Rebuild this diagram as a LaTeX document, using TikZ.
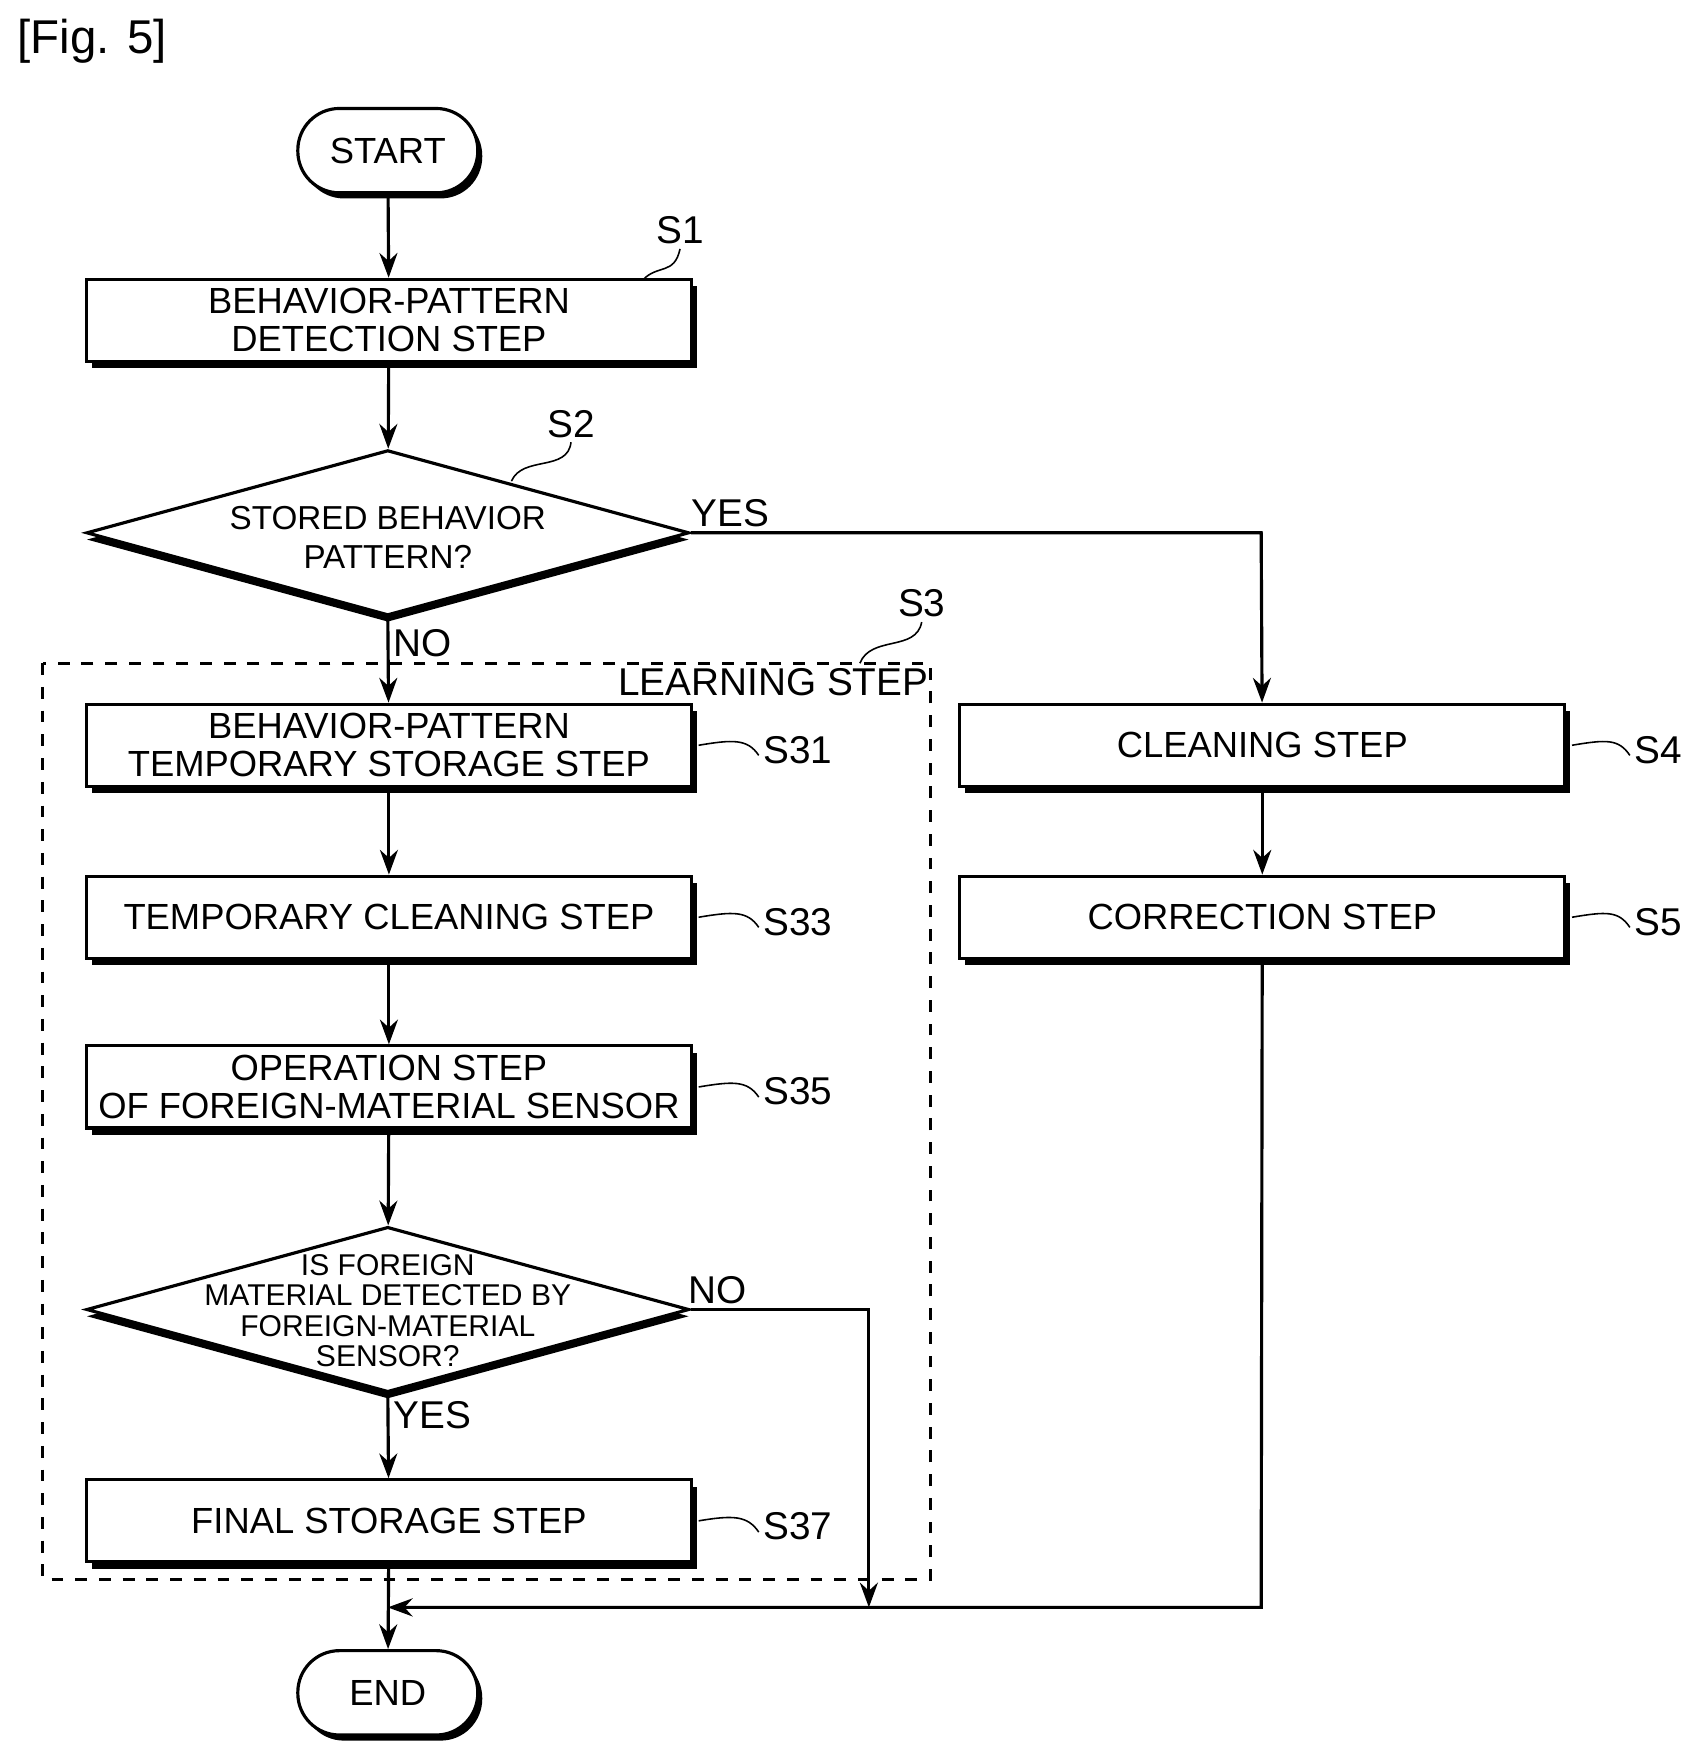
\documentclass[tikz,border=0pt]{standalone}
\usepackage{fontspec}
\setmainfont{Liberation Sans}
\usetikzlibrary{positioning, arrows.meta, shapes.geometric, shadows}

\begin{document}
\begin{tikzpicture}[
    x=0.01cm, y=-0.01cm,
    font=\fontsize{9.2}{9.6}\selectfont,
    process/.style={rectangle, draw, thick, fill=white, minimum width=5.38cm, minimum height=0.73cm, inner sep=0pt, align=center,
        drop shadow={shadow xshift=0.5mm, shadow yshift=-0.6mm, fill=black, opacity=1}},
    term/.style={rectangle, rounded corners=0.37cm, draw, thick, fill=white, minimum width=1.6cm, minimum height=0.75cm,
        drop shadow={shadow xshift=0.4mm, shadow yshift=-0.5mm, fill=black, opacity=1}},
    decision/.style={diamond, draw, thick, fill=white, minimum width=5.36cm, minimum height=1.47cm, inner sep=0pt,
        drop shadow={shadow xshift=0mm, shadow yshift=-0.6mm, fill=black, opacity=1}},
    arrow/.style={-{Stealth[length=2.2mm, width=1.6mm]}, thick},
    tag/.style={font=\fontsize{9.8}{9.8}\selectfont, inner sep=1pt}
]
\useasboundingbox (0,0) rectangle (1500,1556);

% Title
\node at (82,37) {\fontsize{12}{12}\selectfont [Fig. 5]};

% Nodes
\node (Start) [term] at (345,134) {START};
\node (Detect) [process] at (346,285) {BEHAVIOR-PATTERN\\DETECTION STEP};
\node (Stored) [decision] at (345,474) {};
\node [font=\fontsize{8.4}{10}\selectfont, align=center] at (345,478) {STORED BEHAVIOR\\PATTERN?};

\draw [dashed, thick] (38,590) rectangle (828,1405);
\node (LearnLbl) [tag] at (688,607) {LEARNING STEP};

\node (TempStore) [process] at (346,663) {BEHAVIOR-PATTERN\\TEMPORARY STORAGE STEP};
\node (TempClean) [process] at (346,816) {TEMPORARY CLEANING STEP};
\node (Sensor) [process] at (346,967) {OPERATION STEP\\OF FOREIGN-MATERIAL SENSOR};
\node (Detected) [decision] at (345,1165) {};
\node [font=\fontsize{7.6}{7.6}\selectfont, align=center] at (345,1166) {IS FOREIGN\\MATERIAL DETECTED BY\\FOREIGN-MATERIAL\\SENSOR?};
\node (Final) [process] at (346,1353) {FINAL STORAGE STEP};

\node (Cleaning) [process] at (1123,663) {CLEANING STEP};
\node (Correct) [process] at (1123,816) {CORRECTION STEP};

\node (End) [term] at (345,1506) {END};

% Step labels
\node (LS1) [tag] at (605,205) {S1};
\node (LS2) [tag] at (508,377) {S2};
\node (LS3) [tag] at (820,537) {S3};
\node (LS31) [tag, anchor=west] at (675,667) {S31};
\node (LS33) [tag, anchor=west] at (675,820) {S33};
\node (LS35) [tag, anchor=west] at (675,971) {S35};
\node (LS37) [tag, anchor=west] at (675,1358) {S37};
\node (LS4) [tag, anchor=west] at (1450,667) {S4};
\node (LS5) [tag, anchor=west] at (1450,820) {S5};

\draw (LS1.south) .. controls (600,245) and (585,235) .. (572,249);
\draw (LS2.south) .. controls (505,420) and (465,405) .. (455,428);
\draw (LS3.south) .. controls (815,580) and (775,565) .. (765,590);
\foreach \s/\l in {TempStore/LS31, TempClean/LS33, Sensor/LS35, Final/LS37, Cleaning/LS4, Correct/LS5}
    \draw ([xshift=0.05cm]\s.east) .. controls +(0.3cm,0.05cm) and +(-0.1cm,0.15cm) .. ([yshift=-0.05cm]\l.west);

% Arrows
\draw [arrow] (Start) -- (Detect);
\draw [arrow] (Detect) -- (Stored);
\draw [arrow] (Stored.south) -- node[pos=0.3, right, tag] {NO} (TempStore);
\draw [arrow] (Stored.east) -- node[pos=0.07, above, tag] {YES} (1122,474) -- (Cleaning);
\draw [arrow] (TempStore) -- (TempClean);
\draw [arrow] (TempClean) -- (Sensor);
\draw [arrow] (Sensor) -- (Detected);
\draw [arrow] (Detected.south) -- node[pos=0.25, right, tag] {YES} (Final);
\draw [arrow] (Detected.east) -- node[pos=0.15, above, tag] {NO} (773,1165) -- (773,1430);
\draw [arrow] (Cleaning) -- (Correct);
\draw [arrow] (Correct) -- (1122,1430) -- (345,1430);
\draw [arrow] (Final) -- (End);

\end{tikzpicture}
\end{document}
